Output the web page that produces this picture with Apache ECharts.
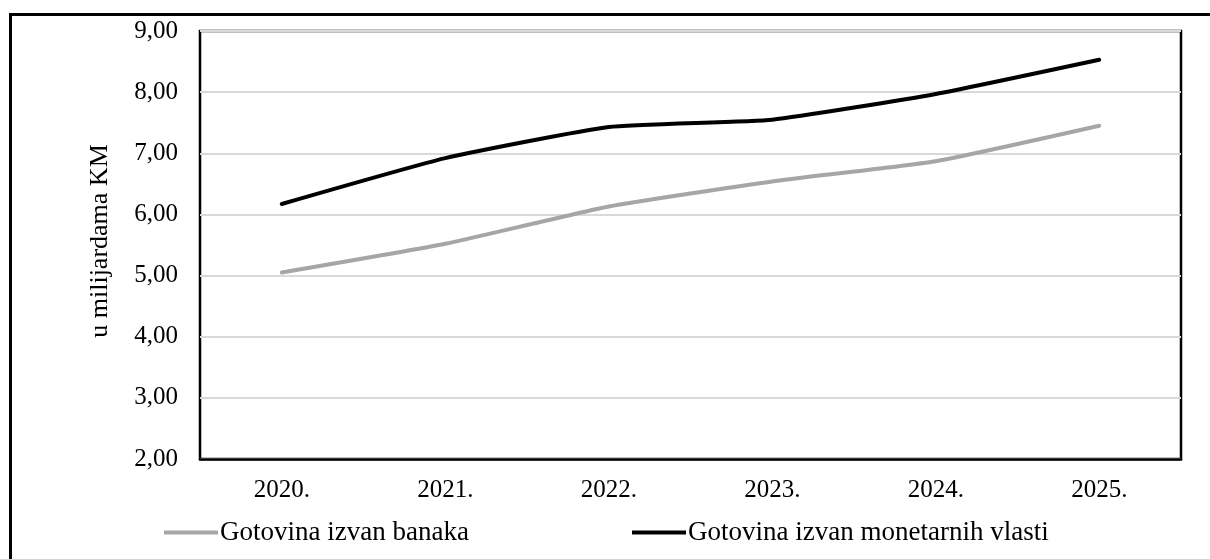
<!DOCTYPE html>
<html>
<head>
<meta charset="utf-8">
<script src="https://cdn.jsdelivr.net/npm/echarts@6/dist/echarts.min.js"></script>
<style>
html,body{margin:0;padding:0;background:#fff;}
#c{width:1210px;height:559px;}
</style>
</head>
<body>
<div id="c"></div>
<script>
const categories = ['2020.', '2021.', '2022.', '2023.', '2024.', '2025.'];
const seriesNames = ['Gotovina izvan banaka', 'Gotovina izvan monetarnih vlasti'];
const gotovinaIzvanBanaka = [5.05, 5.52, 6.13, 6.54, 6.87, 7.45];
const gotovinaIzvanMonetarnihVlasti = [6.17, 6.92, 7.43, 7.55, 7.97, 8.53];
const yMin = 2, yMax = 9, yStep = 1;
const yAxisName = 'u milijardama KM';

const FONT = '"Liberation Serif", "Times New Roman", serif';
const chart = echarts.init(document.getElementById('c'), null, {renderer: 'canvas'});
chart.setOption({
  animation: false,
  backgroundColor: '#fff',
  graphic: [{
    type: 'rect', left: 8, top: 12, silent: true,
    shape: {width: 1230, height: 580},
    style: {fill: 'none', stroke: '#000', lineWidth: 3}
  }],
  grid: {left: 200, top: 31, width: 981, height: 428, show: true, borderColor: '#000', borderWidth: 2.5, backgroundColor: 'transparent'},
  legend: [{
    data: [seriesNames[0]], left: 159, top: 514,
    icon: 'rect', itemWidth: 54, itemHeight: 4, itemGap: 4,
    textStyle: {fontFamily: FONT, fontSize: 27, color: '#000', padding: [0,0,0,-3]}
  }, {
    data: [seriesNames[1]], left: 627, top: 514,
    icon: 'rect', itemWidth: 54, itemHeight: 4, itemGap: 4,
    textStyle: {fontFamily: FONT, fontSize: 27, color: '#000', padding: [0,0,0,-3]}
  }],
  xAxis: {
    type: 'category', data: categories, boundaryGap: true,
    axisLine: {show: true, lineStyle: {color: '#000', width: 2.5}},
    axisTick: {show: false},
    axisLabel: {fontFamily: FONT, fontSize: 25, color: '#000', margin: 19},
    splitLine: {show: false}
  },
  yAxis: {
    type: 'value', min: yMin, max: yMax, interval: yStep,
    name: yAxisName, nameLocation: 'middle', nameGap: 87, nameRotate: 90,
    nameTextStyle: {fontFamily: FONT, fontSize: 26, color: '#000', padding: [0, 0, 0, 8]},
    axisLine: {show: false}, axisTick: {show: false},
    axisLabel: {fontFamily: FONT, fontSize: 25, color: '#000', margin: 22, padding: [6, 0, 0, 0],
      formatter: v => v.toFixed(2).replace('.', ',')},
    splitLine: {show: true, lineStyle: {color: '#d9d9d9', width: 2}}
  },
  series: [{
    name: seriesNames[0], type: 'line', data: gotovinaIzvanBanaka,
    smooth: 0.15, showSymbol: false, symbol: 'none',
    lineStyle: {color: '#a6a6a6', width: 4, cap: 'round'},
    itemStyle: {color: '#a6a6a6'}
  }, {
    name: seriesNames[1], type: 'line', data: gotovinaIzvanMonetarnihVlasti,
    smooth: 0.15, showSymbol: false, symbol: 'none',
    lineStyle: {color: '#000', width: 4, cap: 'round'},
    itemStyle: {color: '#000'}
  }]
});
</script>
</body>
</html>
